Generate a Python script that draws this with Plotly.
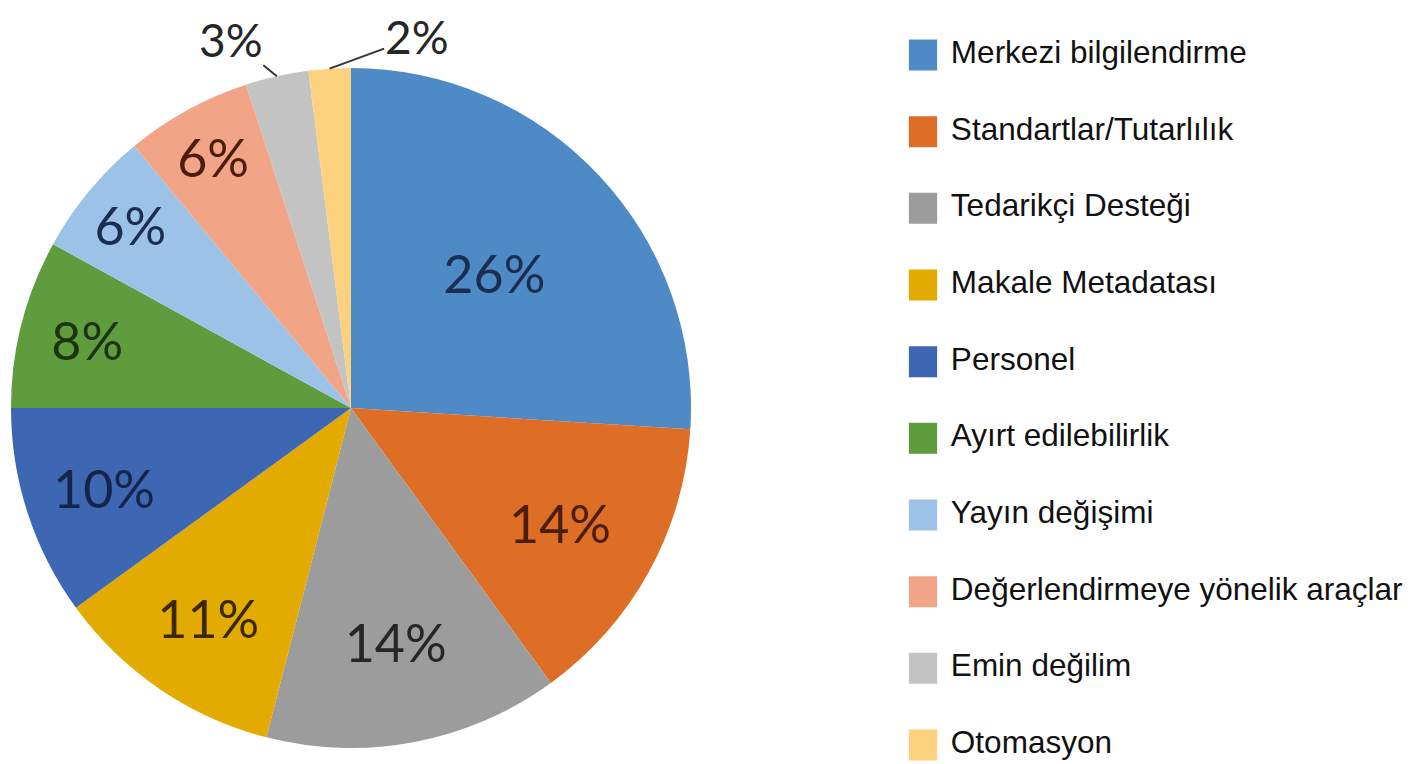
import math
import plotly.graph_objects as go

categories = ["Merkezi bilgilendirme", "Standartlar/Tutarlılık", "Tedarikçi Desteği",
              "Makale Metadatası", "Personel", "Ayırt edilebilirlik", "Yayın değişimi",
              "Değerlendirmeye yönelik araçlar", "Emin değilim", "Otomasyon"]
values = [26, 14, 14, 11, 10, 8, 6, 6, 3, 2]
colors = ["#4E8AC6", "#DE6D26", "#9C9C9C", "#E3AA00", "#3D66B3",
          "#5F9C3E", "#9CC2E8", "#F2A486", "#C3C3C3", "#FCD27E"]
text_colors = ["#1B2E50", "#4A1E08", "#262626", "#3A2800", "#16244A",
               "#1C3410", "#1B2E50", "#4A1E08", "#262626", "#262626"]
outside = [False] * 8 + [True] * 2

W, H = 1413, 764
OFF = 8  # page body offset

dom_x = [(11 - OFF) / W, (691 - OFF) / W]
dom_y = [1 - (748 - OFF) / H, 1 - (68 - OFF) / H]

fig = go.Figure()
fig.add_trace(go.Pie(
    labels=categories, values=values, sort=False, direction="clockwise", rotation=0,
    marker=dict(colors=colors, line=dict(width=0)),
    texttemplate="%{value}%",
    textposition=["none" if o else "inside" for o in outside],
    insidetextorientation="horizontal",
    textfont=dict(family="Lato", size=52, color=text_colors),
    automargin=False,
    domain=dict(x=dom_x, y=dom_y),
    showlegend=False, hoverinfo="label+percent",
))

# outside labels with leader lines, anchored at each slice's outer edge
cx_px = W * (dom_x[0] + dom_x[1]) / 2
cy_px = H * (1 - (dom_y[0] + dom_y[1]) / 2)
r_px = min(W * (dom_x[1] - dom_x[0]), H * (dom_y[1] - dom_y[0])) / 2
total = sum(values)
label_offsets = {8: (-46, -37), 9: (87, -32)}
cum = 0
for i, v in enumerate(values):
    mid = (cum + v / 2) / total * 2 * math.pi
    cum += v
    if not outside[i]:
        continue
    px = cx_px + r_px * math.sin(mid)
    py = cy_px - r_px * math.cos(mid)
    ax, ay = label_offsets[i]
    fig.add_annotation(
        x=px / W, y=1 - py / H, xref="paper", yref="paper",
        text=f"{v}%", showarrow=True, arrowhead=0, arrowwidth=2, arrowcolor="#333333",
        ax=ax, ay=ay, standoff=0, borderpad=0,
        font=dict(family="Lato", size=46, color="#262626"),
    )

idx = list(range(len(categories)))
fig.add_trace(go.Scatter(
    x=[0] * len(categories), y=idx, mode="markers",
    marker=dict(symbol="square", size=31, color=colors),
    showlegend=False, hoverinfo="skip", xaxis="x", yaxis="y",
))
fig.add_trace(go.Scatter(
    x=[0] * len(categories), y=idx, mode="markers+text",
    marker=dict(symbol="square", size=43, color="rgba(0,0,0,0)"),
    text=categories, textposition="middle right",
    textfont=dict(family="Liberation Sans", size=31.5, color="#111111"),
    cliponaxis=False, showlegend=False, hoverinfo="text",
    xaxis="x", yaxis="y",
))

cxm = (923 - OFF) / W
top_idx = -(55 - OFF) / 76.67
bot_idx = 9 + (H - (745 - OFF)) / 76.67

fig.update_layout(
    width=W, height=H,
    margin=dict(l=0, r=0, t=0, b=0, autoexpand=False),
    paper_bgcolor="white", plot_bgcolor="white",
    showlegend=False,
    xaxis=dict(domain=[cxm - 0.01, cxm + 0.01], range=[-1, 1], visible=False, fixedrange=True),
    yaxis=dict(domain=[0, 1], range=[bot_idx, top_idx], visible=False, fixedrange=True),
)

fig.write_html("out.html")
